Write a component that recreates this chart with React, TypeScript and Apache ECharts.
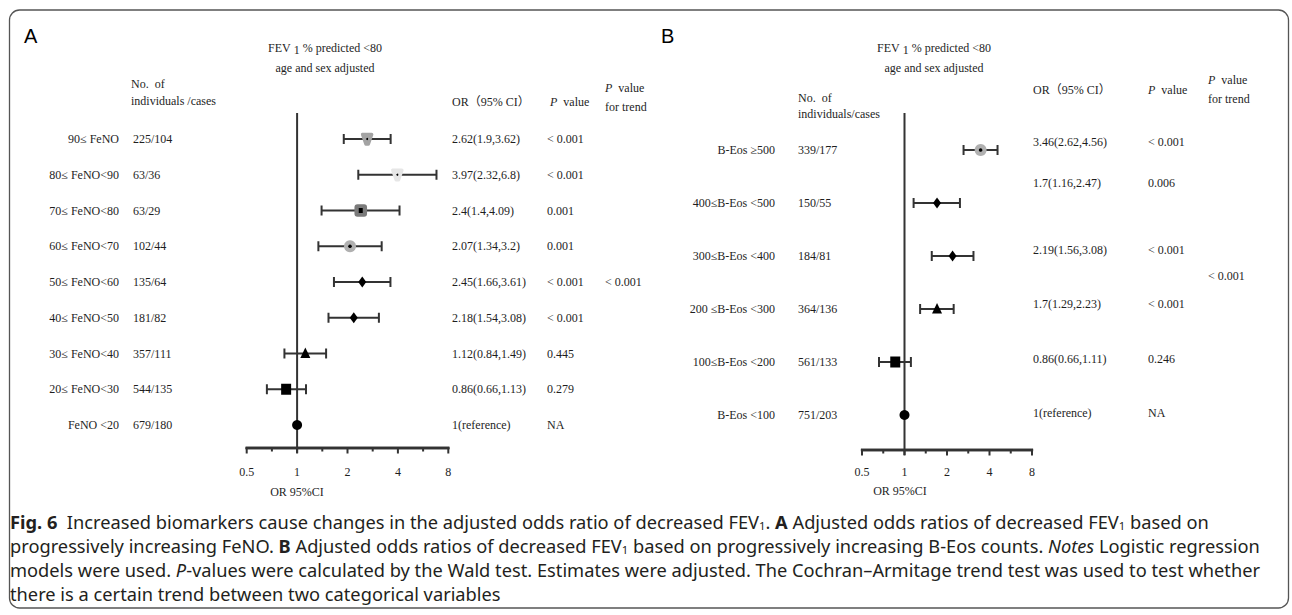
import React, { useEffect, useRef } from 'react';
import * as echarts from 'echarts';

// ---------- Panel A (FeNO) ----------
const labelsA = ['90≤ FeNO', '80≤ FeNO<90', '70≤ FeNO<80', '60≤ FeNO<70', '50≤ FeNO<60', '40≤ FeNO<50', '30≤ FeNO<40', '20≤ FeNO<30', 'FeNO <20'];
const countsA = ['225/104', '63/36', '63/29', '102/44', '135/64', '181/82', '357/111', '544/135', '679/180'];
const orA = [2.62, 3.97, 2.4, 2.07, 2.45, 2.18, 1.12, 0.86, 1];
const loA = [1.9, 2.32, 1.4, 1.34, 1.66, 1.54, 0.84, 0.66, null];
const hiA = [3.62, 6.8, 4.09, 3.2, 3.61, 3.08, 1.49, 1.13, null];
const orTextA = ['2.62(1.9,3.62)', '3.97(2.32,6.8)', '2.4(1.4,4.09)', '2.07(1.34,3.2)', '2.45(1.66,3.61)', '2.18(1.54,3.08)', '1.12(0.84,1.49)', '0.86(0.66,1.13)', '1(reference)'];
const pA = ['< 0.001', '< 0.001', '0.001', '0.001', '< 0.001', '< 0.001', '0.445', '0.279', 'NA'];
const markersA = ['greyShield', 'paleShield', 'greySquare', 'greyCircle', 'diamond', 'diamond', 'triangle', 'square', 'circle'];
const trendA = '< 0.001';

// ---------- Panel B (B-Eos) ----------
const labelsB = ['B-Eos ≥500', '400≤B-Eos <500', '300≤B-Eos <400', '200 ≤B-Eos <300', '100≤B-Eos <200', 'B-Eos <100'];
const countsB = ['339/177', '150/55', '184/81', '364/136', '561/133', '751/203'];
const orB = [3.46, 1.7, 2.19, 1.7, 0.86, 1];
const loB = [2.62, 1.16, 1.56, 1.29, 0.66, null];
const hiB = [4.56, 2.47, 3.08, 2.23, 1.11, null];
const orTextB = ['3.46(2.62,4.56)', '1.7(1.16,2.47)', '2.19(1.56,3.08)', '1.7(1.29,2.23)', '0.86(0.66,1.11)', '1(reference)'];
const pB = ['< 0.001', '0.006', '< 0.001', '< 0.001', '0.246', 'NA'];
const markersB = ['greyCircle', 'diamond', 'diamond', 'triangle', 'square', 'circle'];
const trendB = '< 0.001';

// axis ticks (OR, log2 scale)
const xTicks = [0.5, 1, 2, 4, 8];

// caption lines
const captionLines = [
  '{b|Fig. 6}  Increased biomarkers cause changes in the adjusted odds ratio of decreased FEV{s|1}. {b|A} Adjusted odds ratios of decreased FEV{s|1} based on',
  'progressively increasing FeNO. {b|B} Adjusted odds ratios of decreased FEV{s|1} based on progressively increasing B-Eos counts. {i|Notes} Logistic regression',
  'models were used. {i|P}-values were calculated by the Wald test. Estimates were adjusted. The Cochran–Armitage trend test was used to test whether',
  'there is a certain trend between two categorical variables',
];

// ---------- layout ----------
const SERIF = '"Liberation Serif", "Times New Roman", "Noto Sans CJK SC", serif';
const SANS = '"Noto Sans", "Open Sans", sans-serif';
const INK = '#1e1e1e';
const LINE = '#333';

const layoutA = {
  gridLeft: 246.7, gridWidth: 201.6, gridTop: 113, gridBottom: 448,
  firstRow: 139, rowStep: 35.75,
  labelRight: 119, countX: 133, orX: 452, pX: 547, textDy: [0, 0, 0, 0, 0, 0, 0, 0, 0],
};
const layoutB = {
  gridLeft: 862, gridWidth: 170, gridTop: 113, gridBottom: 450,
  firstRow: 150, rowStep: 53,
  labelRight: 775, countX: 798, orX: 1033, pX: 1148, textDy: [-8, -20, -6, -5, -3, -2],
};

function yRange(L: any, n: number) {
  return {
    min: -(L.firstRow - L.gridTop) / L.rowStep,
    max: (n - 1) + (L.gridBottom - (L.firstRow + (n - 1) * L.rowStep)) / L.rowStep,
  };
}

function txt(text: string, x: number, y: number, align: string, extra: any = {}) {
  return {
    type: 'text', x, y, silent: true,
    style: { text, fill: INK, fontSize: 12, fontFamily: SERIF, align, verticalAlign: 'middle', ...extra },
  };
}

function marker(kind: string, cx: number, cy: number) {
  const black = '#000';
  switch (kind) {
    case 'circle':
      return [{ type: 'circle', shape: { cx, cy, r: 5 }, style: { fill: black } }];
    case 'square':
      return [{ type: 'rect', shape: { x: cx - 5, y: cy - 5.5, width: 10, height: 11 }, style: { fill: black } }];
    case 'diamond':
      return [{ type: 'polygon', shape: { points: [[cx, cy - 5.5], [cx + 4, cy], [cx, cy + 5.5], [cx - 4, cy]] }, style: { fill: black } }];
    case 'triangle':
      return [{ type: 'polygon', shape: { points: [[cx, cy - 6], [cx + 5, cy + 4.5], [cx - 5, cy + 4.5]] }, style: { fill: black } }];
    case 'greyCircle':
      return [
        { type: 'circle', shape: { cx, cy, r: 6 }, style: { fill: '#b0b0b0' } },
        { type: 'circle', shape: { cx, cy, r: 1.8 }, style: { fill: black } },
      ];
    case 'greySquare':
      return [
        { type: 'rect', shape: { x: cx - 6.3, y: cy - 6.2, width: 12.6, height: 12.4, r: 3 }, style: { fill: '#7a7a7a' } },
        { type: 'rect', shape: { x: cx - 2, y: cy - 2.5, width: 4, height: 5 }, style: { fill: black } },
      ];
    case 'greyShield':
    case 'paleShield': {
      const c = kind === 'greyShield' ? '#a3a3a3' : '#e6e6e6';
      return [
        { type: 'polygon', shape: { points: [[cx - 4.5, cy - 4.5], [cx + 4.5, cy - 4.5], [cx + 1.2, cy + 5], [cx - 1.2, cy + 5]] },
          style: { fill: c, stroke: c, lineWidth: 3.5, lineJoin: 'round' } },
        { type: 'circle', shape: { cx, cy, r: 1 }, style: { fill: black } },
      ];
    }
  }
  return [];
}

function makeRender(L: any, labels: string[], counts: string[], orText: string[], pv: string[], marks: string[]) {
  return (params: any, api: any) => {
    const i = params.dataIndex;
    const row = api.value(0);
    const pt = api.coord([api.value(1), row]);
    const y = pt[1];
    const children: any[] = [];
    children.push(txt(labels[i], L.labelRight, y, 'right'));
    children.push(txt(counts[i], L.countX, y, 'left'));
    const lo = api.value(2);
    const hi = api.value(3);
    if (isFinite(lo) && isFinite(hi)) {
      const x0 = api.coord([lo, row])[0];
      const x1 = api.coord([hi, row])[0];
      const ls = { stroke: LINE, lineWidth: 2 };
      children.push({ type: 'line', shape: { x1: x0, y1: y, x2: x1, y2: y }, style: ls });
      children.push({ type: 'line', shape: { x1: x0, y1: y - 5, x2: x0, y2: y + 5 }, style: ls });
      children.push({ type: 'line', shape: { x1: x1, y1: y - 5, x2: x1, y2: y + 5 }, style: ls });
    }
    children.push(...marker(marks[i], pt[0], y));
    const dy = L.textDy[i] || 0;
    children.push(txt(orText[i], L.orX, y + dy, 'left'));
    children.push(txt(pv[i], L.pX, y + dy, 'left'));
    return { type: 'group', children };
  };
}

// draws the OR axis: line (as a polygon strip through every tick), ticks, and the reference line at OR = 1
function makeAxisRender(yr: any, allTicks: number[], majorSet: number[]) {
  return (_params: any, api: any) => {
    const yPx = api.coord([1, yr.max])[1];
    const topPx = api.coord([1, yr.min])[1];
    const xs = allTicks.map((v) => api.coord([v, yr.max])[0]);
    const x0 = xs[0];
    const x1 = xs[xs.length - 1];
    const xRef = api.coord([1, yr.max])[0];
    const children: any[] = [
      { type: 'polygon', shape: { points: [[x0 - 1, yPx - 1.2], [x1 + 1, yPx - 1.2], [x1 + 1, yPx + 1.2], [x0 - 1, yPx + 1.2]] },
        style: { fill: LINE, stroke: LINE, lineWidth: 0.4 } },
      { type: 'rect', shape: { x: xRef - 1, y: topPx, width: 2, height: yPx - topPx + 5 }, style: { fill: LINE } },
    ];
    allTicks.forEach((v, k) => {
      const h = majorSet.indexOf(v) >= 0 ? 5.5 : 3.5;
      children.push({ type: 'rect', shape: { x: xs[k] - 1, y: yPx, width: 2, height: h }, style: { fill: LINE } });
    });
    return { type: 'group', children };
  };
}

function measureWidth(s: string, size: number, fam: string) {
  const ctx = document.createElement('canvas').getContext('2d') as CanvasRenderingContext2D;
  ctx.font = `${size}px ${fam}`;
  return ctx.measureText(s).width;
}

export default function App() {
  const ref = useRef<HTMLDivElement>(null);
  useEffect(() => {
    document.body.style.margin = '0';
    const chart = echarts.init(ref.current as HTMLDivElement, null as any, { renderer: 'svg' });

    const yA = yRange(layoutA, labelsA.length);
    const yB = yRange(layoutB, labelsB.length);
    const minorTicks = xTicks.slice(0, -1).map((v) => v * Math.SQRT2);
    const allTicks = [...xTicks, ...minorTicks].sort((a, b) => a - b);

    // caption font size fitted to the reference line width
    const plainL3 = captionLines[2].replace(/\{[a-z]\|([^}]*)\}/g, '$1');
    const capSize = Math.max(14, Math.min(19, (100 * 1252) / measureWidth(plainL3, 100, SANS)));

    const rowsA = labelsA.map((_, i) => [i, orA[i], loA[i], hiA[i]]);
    const rowsB = labelsB.map((_, i) => [i, orB[i], loB[i], hiB[i]]);

    const xAxisBase = (gridIndex: number, margin: number) => ({
      type: 'log', logBase: 2, min: xTicks[0], max: xTicks[xTicks.length - 1], gridIndex,
      axisLine: { show: false },
      axisTick: { show: false },
      axisLabel: { color: INK, fontSize: 12, fontFamily: SERIF, margin,
        formatter: (v: number) => String(v) },
      splitLine: { show: false },
      minorTick: { show: false },
    });

    const headerText = (x: number, y: number, text: string, align = 'left') => ({
      type: 'text', x, y, silent: true,
      style: {
        text, fill: INK, fontSize: 12, fontFamily: SERIF, align, verticalAlign: 'middle', lineHeight: 16,
        rich: {
          s: { fontSize: 12, fontFamily: SERIF, fill: INK, lineHeight: 8, verticalAlign: 'bottom' },
          i: { fontSize: 12, fontFamily: SERIF, fill: INK, fontStyle: 'italic', lineHeight: 16 },
        },
      },
    });

    const capRich = {
      b: { fontWeight: 'bold', fontSize: capSize, fontFamily: SANS, fill: '#231f20', lineHeight: 20 },
      i: { fontStyle: 'italic', fontSize: capSize, fontFamily: SANS, fill: '#231f20', lineHeight: 20 },
      s: { fontSize: capSize * 0.62, fontFamily: SANS, fill: '#231f20', lineHeight: 10, verticalAlign: 'bottom' },
    };

    const graphics: any[] = [
      { type: 'rect', silent: true, z: -10, shape: { x: 9.5, y: 10, width: 1279, height: 598, r: 10 },
        style: { fill: 'none', stroke: '#555', lineWidth: 1.3 } },
      { type: 'text', x: 24, y: 36, style: { text: 'A', fill: '#000', fontSize: 20, fontFamily: '"Liberation Sans", Arial, sans-serif', verticalAlign: 'middle' } },
      { type: 'text', x: 661, y: 36, style: { text: 'B', fill: '#000', fontSize: 20, fontFamily: '"Liberation Sans", Arial, sans-serif', verticalAlign: 'middle' } },
      // panel A headers
      headerText(325, 48, 'FEV {s|1} % predicted <80', 'center'),
      headerText(325, 68, 'age and sex adjusted', 'center'),
      headerText(131, 84, 'No.  of'),
      headerText(131, 101, 'individuals /cases'),
      headerText(452, 102, 'OR（95% CI）'),
      headerText(550, 102, '{i|P}  value'),
      headerText(605, 88, '{i|P}  value'),
      headerText(605, 107, 'for trend'),
      headerText(605, layoutA.firstRow + 4 * layoutA.rowStep, trendA),
      headerText(297, 492, 'OR 95%CI', 'center'),
      // panel B headers
      headerText(934, 48, 'FEV {s|1} % predicted <80', 'center'),
      headerText(934, 68, 'age and sex adjusted', 'center'),
      headerText(798, 98, 'No.  of'),
      headerText(798, 114, 'individuals/cases'),
      headerText(1033, 90, 'OR（95% CI）'),
      headerText(1148, 90, '{i|P}  value'),
      headerText(1208, 80, '{i|P}  value'),
      headerText(1208, 99, 'for trend'),
      headerText(1208, 276, trendB),
      headerText(900, 491, 'OR 95%CI', 'center'),
    ];
    captionLines.forEach((line, k) => {
      graphics.push({
        type: 'text', x: 10, y: 521 + k * 24, silent: true,
        style: { text: line, fill: '#231f20', fontSize: capSize, fontFamily: SANS, lineHeight: 20, verticalAlign: 'middle', align: 'left', rich: capRich },
      });
    });

    chart.setOption({
      animation: false,
      backgroundColor: '#fff',
      grid: [
        { left: layoutA.gridLeft, width: layoutA.gridWidth, top: layoutA.gridTop, height: layoutA.gridBottom - layoutA.gridTop },
        { left: layoutB.gridLeft, width: layoutB.gridWidth, top: layoutB.gridTop, height: layoutB.gridBottom - layoutB.gridTop },
      ],
      xAxis: [xAxisBase(0, 18), xAxisBase(1, 16)],
      yAxis: [
        { type: 'value', gridIndex: 0, inverse: true, min: yA.min, max: yA.max, show: false },
        { type: 'value', gridIndex: 1, inverse: true, min: yB.min, max: yB.max, show: false },
      ],
      graphic: graphics,
      series: [
        { type: 'custom', xAxisIndex: 0, yAxisIndex: 0, data: [[1, 1]], clip: false, z: 1, silent: true,
          encode: { x: 0, y: 1 }, renderItem: makeAxisRender(yA, allTicks, xTicks) },
        { type: 'custom', xAxisIndex: 1, yAxisIndex: 1, data: [[1, 1]], clip: false, z: 1, silent: true,
          encode: { x: 0, y: 1 }, renderItem: makeAxisRender(yB, allTicks, xTicks) },
        { type: 'custom', xAxisIndex: 0, yAxisIndex: 0, data: rowsA, clip: false, z: 5, silent: true,
          encode: { x: 1, y: 0 },
          renderItem: makeRender(layoutA, labelsA, countsA, orTextA, pA, markersA) },
        { type: 'custom', xAxisIndex: 1, yAxisIndex: 1, data: rowsB, clip: false, z: 5, silent: true,
          encode: { x: 1, y: 0 },
          renderItem: makeRender(layoutB, labelsB, countsB, orTextB, pB, markersB) },
      ],
    });

    // second layer: axis baselines placed through the library's own converter (pixel positions of OR 0.5 and 8)
    const base = (idx: number, yr: any) => {
      const a = chart.convertToPixel({ xAxisIndex: idx, yAxisIndex: idx } as any, [xTicks[0], yr.max]) as any;
      const b = chart.convertToPixel({ xAxisIndex: idx, yAxisIndex: idx } as any, [xTicks[xTicks.length - 1], yr.max]) as any;
      return { type: 'line', silent: true, z: 50, shape: { x1: a[0] - 1, y1: a[1], x2: b[0] + 1, y2: b[1] },
        style: { stroke: LINE, lineWidth: 2 } };
    };
    chart.setOption({ graphic: [...graphics, base(0, yA), base(1, yB)] });
    return () => chart.dispose();
  }, []);
  return <div ref={ref} style={{ position: 'absolute', left: 0, top: 0, width: 1292, height: 615, background: '#fff' }} />;
}
